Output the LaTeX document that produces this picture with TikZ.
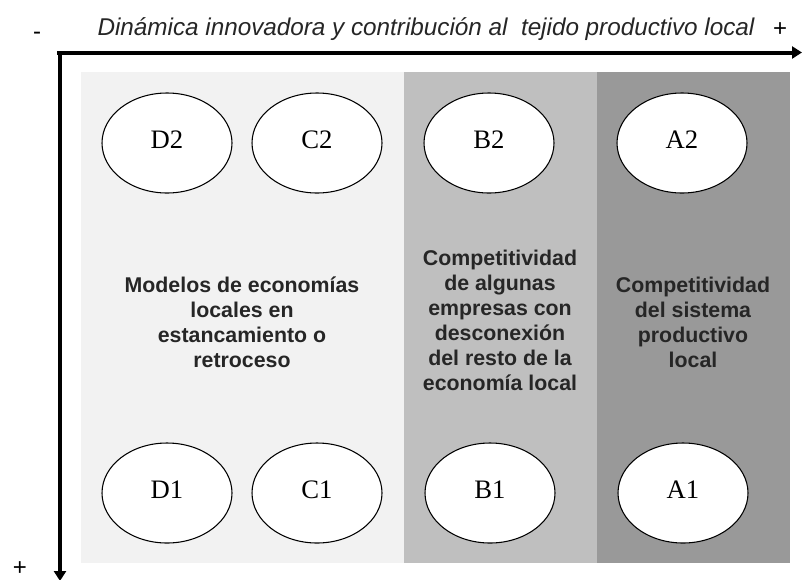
\documentclass[tikz,border=0pt]{standalone}
\usepackage{fontspec}
\setmainfont{Liberation Serif}
\setsansfont{Liberation Sans}
\usetikzlibrary{arrows.meta,shapes.geometric}
\begin{document}
\begin{tikzpicture}[x=0.75pt,y=-0.75pt,
  oval/.style={ellipse,draw=black,line width=0.8pt,fill=white,minimum width=97.5pt,minimum height=75pt,inner sep=0pt,font=\fontsize{20}{24}\selectfont},
  zonetext/.style={align=center,font=\sffamily\bfseries\fontsize{16}{18.75}\selectfont,text=black!85},
  axis/.style={line width=3pt,-{Triangle[length=7.5pt,width=9pt]},line join=miter},
  sign/.style={inner sep=0pt,font=\sffamily\fontsize{18}{20}\selectfont}]
\useasboundingbox (0,0) rectangle (802,579);
\fill[white] (0,0) rectangle (802,579);
% zones
\fill[black!5] (81,72) rectangle (404,563);
\fill[black!25] (404,72) rectangle (597,563);
\fill[black!40] (597,72) rectangle (790,563);
% axes
\coordinate (O) at (60,52.5);
\coordinate (Ostart) at (57,52.5);
\coordinate (XE) at (802,52.5);
\coordinate (YE) at (60,581);
\draw[axis] (Ostart) -- (XE);
\draw[axis] (O) -- (YE);
\node[sign] (minus) at (37,36) {-};
\node[sign] (plusx) at (780,30) {+};
\node[sign] (plusy) at (20,569) {+};
\node[font=\sffamily\itshape\fontsize{18.2}{22}\selectfont,text=black!85] (title) at (426,29) {Dinámica innovadora y contribución al\ \ tejido productivo local};
% ellipses
\newcommand{\olab}[1]{\raisebox{5pt}{#1}}
\node[oval] (D2) at (167,143) {\olab{D2}};
\node[oval] (C2) at (317,143) {\olab{C2}};
\node[oval] (B2) at (489,143) {\olab{B2}};
\node[oval] (A2) at (682,143) {\olab{A2}};
\node[oval] (D1) at (167,493) {\olab{D1}};
\node[oval] (C1) at (317,493) {\olab{C1}};
\node[oval] (B1) at (490,493) {\olab{B1}};
\node[oval] (A1) at (683,493) {\olab{A1}};
% zone texts
\node[zonetext] (zD) at (242,322) {Modelos de economías\\locales en\\estancamiento o\\retroceso};
\node[zonetext] (zB) at (500,320) {Competitividad\\de algunas\\empresas con\\desconexión\\del resto de la\\economía local};
\node[zonetext] (zA) at (693,322) {Competitividad\\del sistema\\productivo\\local};
\end{tikzpicture}
\end{document}
